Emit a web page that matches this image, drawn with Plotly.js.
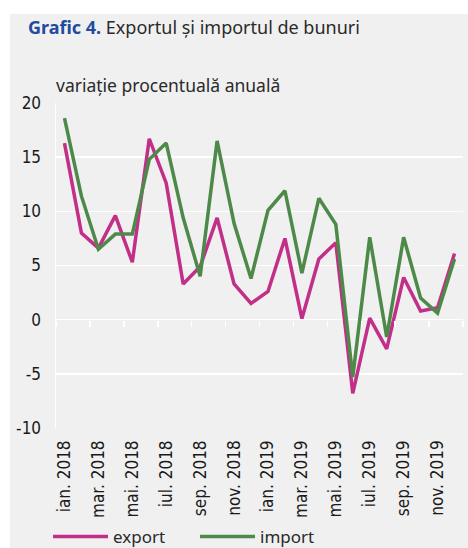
<!DOCTYPE html>
<html>
<head>
<meta charset="utf-8">
<script src="https://cdn.plot.ly/plotly-3.0.1.min.js"></script>
<style>
  html, body { margin: 0; padding: 0; background: #ffffff; width: 468px; height: 548px; overflow: hidden; }
  #chart { position: absolute; left: 10px; top: 14px; width: 458px; height: 534px; }
</style>
</head>
<body>
<div id="chart"></div>
<script>
// Luni (categorii)
const months = [
  "ian. 2018","feb. 2018","mar. 2018","apr. 2018","mai. 2018","iun. 2018",
  "iul. 2018","aug. 2018","sep. 2018","oct. 2018","nov. 2018","dec. 2018",
  "ian. 2019","feb. 2019","mar. 2019","apr. 2019","mai. 2019","iun. 2019",
  "iul. 2019","aug. 2019","sep. 2019","oct. 2019","nov. 2019","dec. 2019"
];
// Etichete afișate pe axa X
const tickLabels = [
  "ian. 2018","mar. 2018","mai. 2018","iul. 2018","sep. 2018","nov. 2018",
  "ian. 2019","mar. 2019","mai. 2019","iul. 2019","sep. 2019","nov. 2019"
];
// variație procentuală anuală
const exportVals = [16.3, 8.0, 6.6, 9.6, 5.3, 16.7, 12.6, 3.3, 4.9, 9.4, 3.3, 1.5,
                    2.6, 7.5, 0.1, 5.6, 7.1, -6.8, 0.15, -2.7, 3.9, 0.8, 1.1, 6.1];
const importVals = [18.6, 11.4, 6.5, 7.9, 7.9, 14.8, 16.3, 9.4, 4.0, 16.5, 8.9, 3.8,
                    10.1, 11.9, 4.3, 11.2, 8.8, -5.3, 7.6, -1.6, 7.6, 2.0, 0.6, 5.6];
const yTicks = [-10, -5, 0, 5, 10, 15, 20];
const yTickText = ["-10", "-5", "0", "5", "10", "15", "20"];

const narrow = "Liberation Sans Narrow, DejaVu Sans Condensed, sans-serif";
const body = "Noto Sans, Open Sans, sans-serif";

const traces = [
  { type: "scatter", mode: "lines", name: "export", x: months, y: exportVals,
    line: { color: "#c22f88", width: 3.5 } },
  { type: "scatter", mode: "lines", name: "import", x: months, y: importVals,
    line: { color: "#4d8a49", width: 3.5 } },
  // helper trace so the boundary tick axis (crossing at 0) is drawn
  { type: "scatter", mode: "lines", x: [], y: [], xaxis: "x2", yaxis: "y",
    showlegend: false, hoverinfo: "skip" }
];

const layout = {
  width: 458, height: 534,
  paper_bgcolor: "#f0f0f0",
  plot_bgcolor: "#f0f0f0",
  margin: { l: 46, r: 5, t: 89, b: 120, autoexpand: false },
  title: {
    text: '<span style="color:#2349a0;font-weight:bold">Grafic 4.</span> Exportul și importul de bunuri',
    font: { family: body, size: 18, color: "#2a2a2a" },
    x: 18 / 458, xanchor: "left", xref: "container",
    y: 1 - 14 / 534, yanchor: "middle", yref: "container"
  },
  xaxis: {
    type: "category",
    range: [-0.5, 23.5],
    tickmode: "array",
    tickvals: tickLabels,
    ticktext: tickLabels,
    tickangle: -90,
    ticks: "",
    ticklabelstandoff: 8,
    automargin: false,
    tickfont: { family: narrow, size: 17, color: "#1a1a1a" },
    showgrid: false,
    zeroline: false,
    showline: false,
    fixedrange: true
  },
  xaxis2: {
    type: "linear",
    overlaying: "x",
    anchor: "free",
    position: 1 / 3,
    range: [-0.5, 23.5],
    tickmode: "linear",
    tick0: -0.5,
    dtick: 2,
    ticks: "outside",
    ticklen: 6,
    tickwidth: 1.5,
    tickcolor: "#ffffff",
    showticklabels: false,
    showgrid: false,
    zeroline: false,
    showline: false,
    automargin: false
  },
  yaxis: {
    range: [-10, 20],
    tickmode: "array",
    tickvals: yTicks,
    ticktext: yTickText,
    ticks: "outside",
    ticklen: 10,
    tickcolor: "rgba(0,0,0,0)",
    automargin: false,
    tickfont: { family: narrow, size: 17, color: "#1a1a1a" },
    showgrid: true,
    gridcolor: "#ffffff",
    gridwidth: 1.5,
    zeroline: true,
    zerolinecolor: "#ffffff",
    zerolinewidth: 1.5,
    showline: true,
    linecolor: "#ffffff",
    linewidth: 1.5,
    fixedrange: true
  },
  showlegend: true,
  legend: {
    orientation: "h",
    x: (73 - 10 - 46) / 407, xanchor: "left",
    y: -(523 - 414) / 325, yanchor: "middle",
    font: { family: body, size: 17, color: "#2a2a2a" },
    bgcolor: "rgba(0,0,0,0)",
    borderwidth: 0,
    entrywidth: 102,
    entrywidthmode: "pixels",
    tracegroupgap: 0
  },
  annotations: [
    { text: "variație procentuală anuală", xref: "paper", yref: "paper",
      x: -2 / 407, y: 1 + (103.3 - 85) / 325, xanchor: "left", yanchor: "middle",
      showarrow: false, font: { family: body, size: 17.5, color: "#2a2a2a" } }
  ]
};

function lengthenLegendLines(gd) {
  // let the longer line samples show outside the legend's clip box
  gd.querySelectorAll("g.legend g.scrollbox, g.legend").forEach(function (g) {
    g.removeAttribute("clip-path");
  });
  gd.querySelectorAll("g.legend path.js-line").forEach(function (p) {
    p.setAttribute("d", "M-20,0h55");
  });
}

const gd = document.getElementById("chart");
Plotly.newPlot(gd, traces, layout, { displayModeBar: false, staticPlot: true })
  .then(function () {
    lengthenLegendLines(gd);
    gd.on("plotly_afterplot", function () { lengthenLegendLines(gd); });
  });
</script>
</body>
</html>
